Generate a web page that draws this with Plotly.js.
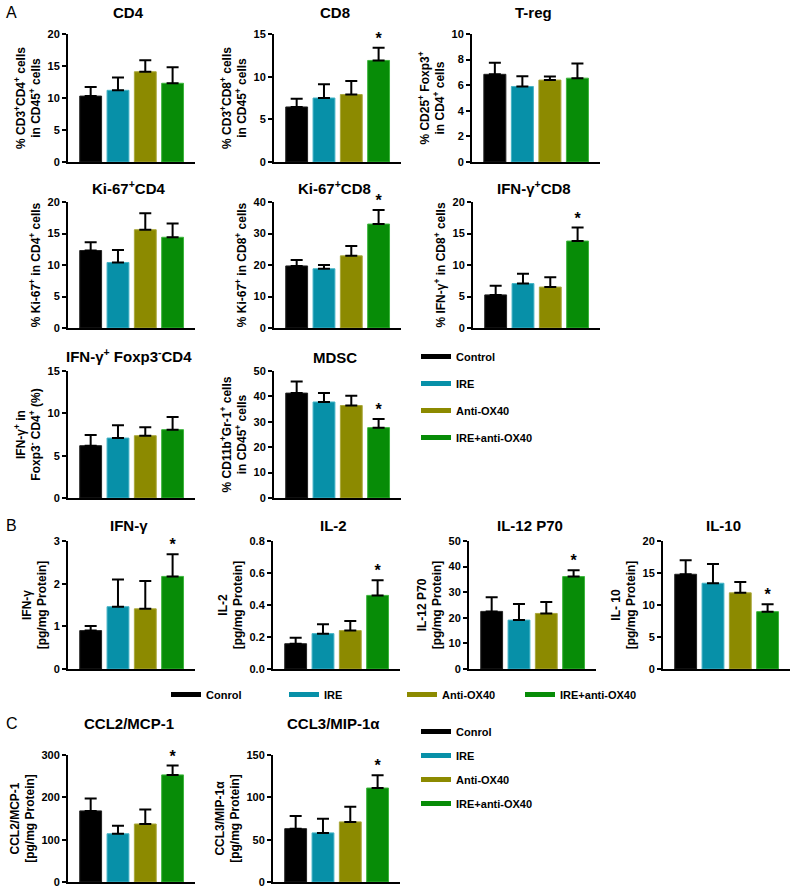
<!DOCTYPE html>
<html>
<head>
<meta charset="utf-8">
<script src="https://cdn.plot.ly/plotly-3.0.1.min.js"></script>
<style>html,body{margin:0;padding:0;background:#fff;}#chart{width:800px;height:890px;}</style>
</head>
<body>
<div id="chart"></div>
<script>
// ---------------- DATA ----------------
const groups = ['Control', 'IRE', 'Anti-OX40', 'IRE+anti-OX40'];
const legendB = ['Conrol', 'IRE', 'Anti-OX40', 'IRE+anti-OX40'];
const legendC = ['Conrol', 'IRE', 'Anti-OX40', 'IRE+anti-OX40'];

const cd4Mean = [10.3, 11.2, 14.1, 12.3];
const cd4Err = [1.4, 2.0, 1.8, 2.5];
const cd8Mean = [6.45, 7.5, 7.9, 11.9];
const cd8Err = [0.95, 1.6, 1.6, 1.5];
const tregMean = [6.85, 5.9, 6.4, 6.55];
const tregErr = [0.9, 0.8, 0.27, 1.15];
const ki67cd4Mean = [12.3, 10.4, 15.6, 14.4];
const ki67cd4Err = [1.3, 2.0, 2.6, 2.2];
const ki67cd8Mean = [19.7, 18.8, 22.9, 33.0];
const ki67cd8Err = [1.9, 1.2, 3.1, 4.5];
const ifngcd8Mean = [5.25, 7.05, 6.5, 13.8];
const ifngcd8Err = [1.45, 1.55, 1.55, 2.15];
const ifngcd4Mean = [6.18, 7.08, 7.36, 8.07];
const ifngcd4Err = [1.26, 1.5, 1.0, 1.5];
const mdscMean = [41.3, 37.8, 36.4, 27.7];
const mdscErr = [4.6, 3.5, 3.9, 3.4];
const ifngMean = [0.90, 1.46, 1.41, 2.17];
const ifngErr = [0.11, 0.64, 0.65, 0.52];
const il2Mean = [0.158, 0.221, 0.240, 0.460];
const il2Err = [0.038, 0.058, 0.060, 0.094];
const il12Mean = [22.5, 19.1, 21.7, 36.1];
const il12Err = [5.5, 6.3, 4.5, 2.5];
const il10Mean = [14.8, 13.4, 11.9, 8.96];
const il10Err = [2.2, 3.0, 1.7, 1.14];
const ccl2Mean = [168, 114, 137, 253];
const ccl2Err = [29, 19, 34, 22];
const ccl3Mean = [63, 58, 71, 111];
const ccl3Err = [15, 16.6, 18, 15];

// significance marker (index of starred bar, or -1)
const cd8Star = 3, ki67cd8Star = 3, ifngcd8Star = 3, mdscStar = 3;
const ifngStar = 3, il2Star = 3, il12Star = 3, il10Star = 3, ccl2Star = 3, ccl3Star = 3;

// ---------------- STYLE / LAYOUT ----------------
const W = 800, H = 890;
const barColors = ['#000000', '#0790a8', '#8c8a00', '#078c07'];
const barEdges = ['#222222', '#45b3c6', '#aaa73a', '#3cb53c'];
const FONT = 'Arial, "Liberation Sans", Helvetica, sans-serif';

const panels = [
  {title: 'CD4', yt: '% CD3<sup>+</sup>CD4<sup>+</sup> cells<br>in CD45<sup>+</sup> cells', m: cd4Mean, e: cd4Err, ymax: 20, dt: 5, star: -1, box: [68, 34, 195, 162], ty: 13},
  {title: 'CD8', yt: '% CD3<sup>+</sup>CD8<sup>+</sup> cells<br>in CD45<sup>+</sup> cells', m: cd8Mean, e: cd8Err, ymax: 15, dt: 5, star: cd8Star, box: [274, 34, 401, 162], ty: 13},
  {title: 'T-reg', yt: '% CD25<sup>+</sup> Foxp3<sup>+</sup><br>in CD4<sup>+</sup> cells', m: tregMean, e: tregErr, ymax: 10, dt: 2, star: -1, box: [472, 34, 600, 162], ty: 13},
  {title: 'Ki-67<sup>+</sup>CD4', yt: '% Ki-67<sup>+</sup> in CD4<sup>+</sup> cells', m: ki67cd4Mean, e: ki67cd4Err, ymax: 20, dt: 5, star: -1, box: [68, 202, 195, 328], ty: 187},
  {title: 'Ki-67<sup>+</sup>CD8', yt: '% Ki-67<sup>+</sup> in CD8<sup>+</sup> cells', m: ki67cd8Mean, e: ki67cd8Err, ymax: 40, dt: 10, star: ki67cd8Star, box: [274, 202, 401, 328], ty: 187},
  {title: 'IFN-γ<sup>+</sup>CD8', yt: '% IFN-γ<sup>+</sup> in CD8<sup>+</sup> cells', m: ifngcd8Mean, e: ifngcd8Err, ymax: 20, dt: 5, star: ifngcd8Star, box: [473, 202, 600, 328], ty: 187},
  {title: 'IFN-γ<sup>+</sup> Foxp3<sup>-</sup>CD4', yt: 'IFN-γ<sup>+</sup> in<br>Foxp3<sup>-</sup> CD4<sup>+</sup> (%)', m: ifngcd4Mean, e: ifngcd4Err, ymax: 15, dt: 5, star: -1, box: [68, 371, 195, 498], ty: 355},
  {title: 'MDSC', yt: '% CD11b<sup>+</sup>Gr-1<sup>+</sup> cells<br>in CD45<sup>+</sup> cells', m: mdscMean, e: mdscErr, ymax: 50, dt: 10, star: mdscStar, box: [274, 371, 401, 498], ty: 357},
  {title: 'IFN-γ', yt: 'IFN-γ<br>[pg/mg Protein]', m: ifngMean, e: ifngErr, ymax: 3, dt: 1, star: ifngStar, box: [68, 541, 195, 669], ty: 525},
  {title: 'IL-2', yt: 'IL-2<br>[pg/mg Protein]', m: il2Mean, e: il2Err, ymax: 0.8, dt: 0.2, star: il2Star, box: [273, 541, 400, 669], ty: 525, fmt: '.1f'},
  {title: 'IL-12 P70', yt: 'IL-12 P70<br>[pg/mg Protein]', m: il12Mean, e: il12Err, ymax: 50, dt: 10, star: il12Star, box: [469, 541, 596, 669], ty: 525},
  {title: 'IL-10', yt: 'IL- 10<br>[pg/mg Protein]', m: il10Mean, e: il10Err, ymax: 20, dt: 5, star: il10Star, box: [663, 541, 790, 669], ty: 525},
  {title: 'CCL2/MCP-1', yt: 'CCL2/MCP-1<br>[pg/mg Protein]', m: ccl2Mean, e: ccl2Err, ymax: 300, dt: 100, star: ccl2Star, box: [68, 755, 195, 882], ty: 723},
  {title: 'CCL3/MIP-1α', yt: 'CCL3/MIP-1α<br>[pg/mg Protein]', m: ccl3Mean, e: ccl3Err, ymax: 150, dt: 50, star: ccl3Star, box: [273, 755, 400, 882], ty: 723}
];

const px = v => v / W;
const py = v => 1 - v / H;

const data = [];
const layout = {
  width: W, height: H,
  margin: {l: 0, r: 0, t: 0, b: 0},
  paper_bgcolor: '#fff', plot_bgcolor: '#fff',
  font: {family: FONT, color: '#000'},
  showlegend: true,
  annotations: [],
  bargap: 0.2
};

panels.forEach((p, i) => {
  const n = i + 1;
  const xa = 'x' + (n === 1 ? '' : n), ya = 'y' + (n === 1 ? '' : n);
  const xk = 'xaxis' + (n === 1 ? '' : n), yk = 'yaxis' + (n === 1 ? '' : n);
  const [x0, y0, x1, y1] = p.box;
  layout[xk] = {
    domain: [px(x0), px(x1)], anchor: ya, range: [-0.83, 3.82],
    showline: true, linewidth: 2, linecolor: '#000', ticks: '', showticklabels: false,
    showgrid: false, zeroline: false, fixedrange: true
  };
  layout[yk] = {
    domain: [py(y1), py(y0)], anchor: xa, range: [0, p.ymax], tick0: 0, dtick: p.dt,
    showline: true, linewidth: 2, linecolor: '#000', ticks: 'outside', ticklen: 4, tickwidth: 2, tickcolor: '#000',
    showgrid: false, zeroline: false, fixedrange: true,
    tickfont: {family: FONT, size: 11, weight: 'bold', color: '#000'},
    tickformat: p.fmt || '',
    title: {text: p.yt, font: {family: FONT, size: 12, weight: 'bold', color: '#000'}, standoff: 4}
  };
  data.push({
    type: 'bar', x: [0, 1, 2, 3], y: p.m, width: 0.8, xaxis: xa, yaxis: ya,
    marker: {color: barColors, line: {color: barEdges, width: 1}},
    error_y: {type: 'data', symmetric: false, array: p.e, arrayminus: [0, 0, 0, 0], color: '#000', thickness: 2, width: 6},
    showlegend: false, hoverinfo: 'skip'
  });
  if (p.star >= 0) {
    data.push({
      type: 'scatter', mode: 'text', x: [p.star], y: [p.m[p.star] + p.e[p.star]], xaxis: xa, yaxis: ya,
      text: ['*'], textposition: 'top center', textfont: {family: FONT, size: 16, weight: 'bold', color: '#000'},
      cliponaxis: false, showlegend: false, hoverinfo: 'skip'
    });
  }
  layout.annotations.push({
    text: p.title, xref: 'paper', yref: 'paper', x: px((x0 + x1) / 2 - 3), y: py(p.ty),
    xanchor: 'center', yanchor: 'middle', showarrow: false,
    font: {family: FONT, size: 15, weight: 'bold', color: '#000'}
  });
});

// panel letters
[['A', 13], ['B', 525], ['C', 723]].forEach(([t, y]) => {
  layout.annotations.push({text: t, xref: 'paper', yref: 'paper', x: px(4), y: py(y), xanchor: 'left', yanchor: 'middle',
    showarrow: false, font: {family: FONT, size: 16, color: '#000'}});
});

// legend traces
function addLegend(names, legId, prefix) {
  names.forEach((nm, k) => {
    data.push({type: 'scatter', mode: 'lines', x: [null], y: [null], name: nm, legend: legId,
      legendgroup: prefix + k, line: {color: barColors[k], width: 5}, hoverinfo: 'skip'});
  });
}
addLegend(groups, 'legend', 'a');
addLegend(legendB, 'legend2', 'b');
addLegend(legendC, 'legend3', 'c');

const legFont = {family: FONT, size: 11, weight: 'bold', color: '#000'};
layout.legend = {x: px(416), y: py(342), xanchor: 'left', yanchor: 'top', font: legFont, tracegroupgap: 8, bgcolor: 'rgba(0,0,0,0)', itemwidth: 30};
layout.legend2 = {x: px(166), y: py(680), xanchor: 'left', yanchor: 'top', orientation: 'h', font: legFont, entrywidth: 73, entrywidthmode: 'pixels', bgcolor: 'rgba(0,0,0,0)', itemwidth: 30};
layout.legend3 = {x: px(416), y: py(717), xanchor: 'left', yanchor: 'top', font: legFont, tracegroupgap: 5, bgcolor: 'rgba(0,0,0,0)', itemwidth: 30};

Plotly.newPlot('chart', data, layout, {staticPlot: true, displayModeBar: false});
</script>
</body>
</html>
